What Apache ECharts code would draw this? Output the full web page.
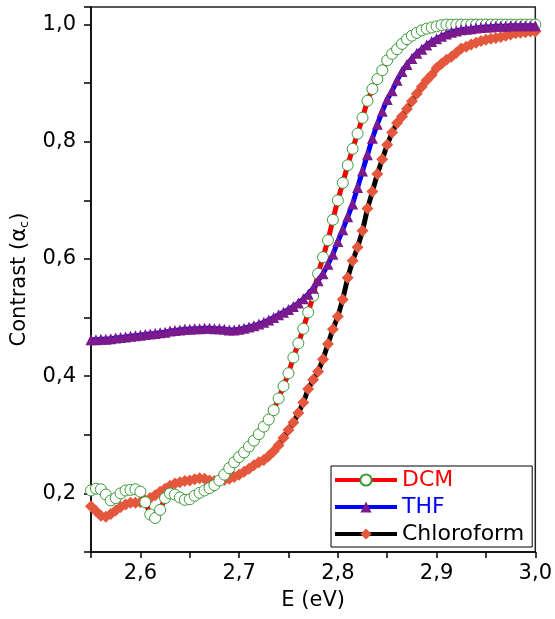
<!DOCTYPE html>
<html>
<head>
<meta charset="utf-8">
<script src="https://cdn.jsdelivr.net/npm/echarts@6/dist/echarts.min.js"></script>
<style>
html,body{margin:0;padding:0;background:#fff;}
#chart{width:555px;height:619px;}
</style>
</head>
<body>
<div id="chart"></div>
<script>
// Photon energy (eV)
const energy = [
2.550,2.555,2.560,2.565,2.570,2.575,2.580,2.585,2.590,2.595,
2.600,2.605,2.610,2.615,2.620,2.625,2.630,2.635,2.640,2.645,
2.650,2.655,2.660,2.665,2.670,2.675,2.680,2.685,2.690,2.695,
2.700,2.705,2.710,2.715,2.720,2.725,2.730,2.735,2.740,2.745,
2.750,2.755,2.760,2.765,2.770,2.775,2.780,2.785,2.790,2.795,
2.800,2.805,2.810,2.815,2.820,2.825,2.830,2.835,2.840,2.845,
2.850,2.855,2.860,2.865,2.870,2.875,2.880,2.885,2.890,2.895,
2.900,2.905,2.910,2.915,2.920,2.925,2.930,2.935,2.940,2.945,
2.950,2.955,2.960,2.965,2.970,2.975,2.980,2.985,2.990,2.995,
3.000];

const dcm = [
0.205,0.208,0.207,0.198,0.188,0.192,0.200,0.205,0.206,0.207,
0.203,0.185,0.164,0.158,0.172,0.192,0.200,0.198,0.193,0.189,
0.190,0.196,0.201,0.205,0.209,0.214,0.222,0.232,0.243,0.253,
0.262,0.270,0.280,0.290,0.301,0.314,0.326,0.342,0.362,0.383,
0.405,0.432,0.456,0.481,0.509,0.537,0.575,0.603,0.632,0.667,
0.700,0.730,0.760,0.788,0.814,0.841,0.870,0.890,0.907,0.922,
0.939,0.950,0.958,0.967,0.975,0.981,0.986,0.990,0.993,0.995,
0.997,0.999,1.000,1.000,1.000,1.000,1.000,1.000,1.000,1.000,
1.000,1.000,1.000,1.000,1.000,1.000,1.000,1.000,1.000,1.000,
1.000];

const thf = [
0.462,0.462,0.463,0.463,0.464,0.465,0.466,0.467,0.468,0.469,
0.470,0.471,0.472,0.473,0.474,0.475,0.477,0.478,0.479,0.480,
0.480,0.481,0.481,0.482,0.482,0.481,0.481,0.480,0.479,0.479,
0.480,0.482,0.484,0.486,0.489,0.492,0.496,0.500,0.505,0.509,
0.514,0.519,0.525,0.532,0.540,0.550,0.563,0.575,0.591,0.608,
0.630,0.650,0.672,0.694,0.722,0.750,0.778,0.806,0.830,0.852,
0.872,0.887,0.905,0.920,0.932,0.942,0.951,0.958,0.965,0.971,
0.976,0.980,0.984,0.987,0.989,0.991,0.992,0.993,0.994,0.995,
0.996,0.996,0.997,0.997,0.997,0.998,0.998,0.998,0.998,0.998,
0.998];

const chloroform = [
0.178,0.170,0.162,0.160,0.165,0.171,0.177,0.181,0.184,0.184,
0.185,0.188,0.192,0.197,0.203,0.208,0.213,0.217,0.219,0.221,
0.222,0.224,0.226,0.225,0.222,0.221,0.222,0.223,0.225,0.228,
0.232,0.237,0.242,0.248,0.253,0.257,0.264,0.272,0.282,0.295,
0.308,0.321,0.337,0.355,0.378,0.394,0.408,0.429,0.455,0.480,
0.502,0.531,0.568,0.597,0.620,0.648,0.686,0.715,0.745,0.770,
0.795,0.816,0.832,0.843,0.856,0.869,0.882,0.894,0.905,0.914,
0.926,0.933,0.940,0.945,0.952,0.959,0.962,0.966,0.969,0.972,
0.974,0.976,0.977,0.979,0.981,0.983,0.985,0.986,0.987,0.988,
0.988];

const seriesNames = ['DCM', 'THF', 'Chloroform'];
const xTickLabels = ['2,6', '2,7', '2,8', '2,9', '3,0'];
const yTickLabels = ['0,2', '0,4', '0,6', '0,8', '1,0'];

function pairs(ys) { return energy.map((e, i) => [e, ys[i]]); }

const FONT = 'DejaVu Sans';
const chart = echarts.init(document.getElementById('chart'), null, {renderer: 'canvas'});

chart.setOption({
  animation: false,
  backgroundColor: '#ffffff',
  grid: {
    left: 91, right: 18, top: 7, bottom: 67,
    show: true, borderColor: '#222', borderWidth: 1.5, backgroundColor: 'transparent'
  },
  xAxis: {
    type: 'value', min: 2.55, max: 3.0, interval: 0.05,
    name: 'E (eV)', nameLocation: 'middle', nameGap: 38,
    nameTextStyle: {fontFamily: FONT, fontSize: 21, color: '#000'},
    axisLine: {show: true, onZero: false, lineStyle: {color: '#000', width: 1.5}},
    axisTick: {show: true, inside: false, length: 6, lineStyle: {color: '#000', width: 1.5}},
    splitLine: {show: false},
    axisLabel: {
      margin: 11, color: '#000', fontFamily: FONT, fontSize: 21,
      showMinLabel: true, showMaxLabel: true,
      formatter: function (v) {
        const k = Math.round(v * 100);
        if (k % 10 !== 0) return '';
        const idx = Math.round((v - 2.6) * 10);
        return xTickLabels[idx] !== undefined ? xTickLabels[idx] : '';
      }
    }
  },
  yAxis: {
    type: 'value', min: 0.1, max: 1.03, interval: 0.1,
    name: 'Contrast ({a|α}{s|c})', nameLocation: 'middle', nameGap: 60, nameRotate: 90,
    nameTextStyle: {
      fontFamily: FONT, fontSize: 21, color: '#000',
      rich: {
        a: {fontFamily: FONT, fontSize: 21, color: '#000'},
        s: {fontFamily: FONT, fontSize: 13, color: '#000', verticalAlign: 'bottom', padding: [10, 0, 0, 0]}
      }
    },
    axisLine: {show: true, onZero: false, lineStyle: {color: '#000', width: 1.5}},
    axisTick: {show: true, inside: false, length: 7, lineStyle: {color: '#000', width: 1.5}},
    splitLine: {show: false},
    axisLabel: {
      margin: 15, color: '#000', fontFamily: FONT, fontSize: 21,
      formatter: function (v) {
        const k = Math.round(v * 10);
        if (Math.abs(v * 10 - k) > 1e-6) return '';
        if (k % 2 !== 0) return '';
        const idx = k / 2 - 1;
        return yTickLabels[idx] !== undefined ? yTickLabels[idx] : '';
      }
    }
  },
  legend: {
    orient: 'vertical', left: 331, top: 466,
    backgroundColor: '#fff', borderColor: '#000', borderWidth: 1,
    padding: [3, 8, 2, 2],
    itemWidth: 62, itemHeight: 14, itemGap: 5,
    lineStyle: {width: 4},
    textStyle: {fontFamily: FONT, fontSize: 22, padding: [0, 0, 0, 0]},
    data: [
      {name: 'DCM', textStyle: {color: '#ff0000'}},
      {name: 'THF', textStyle: {color: '#0000ff'}},
      {name: 'Chloroform', textStyle: {color: '#000000'}}
    ]
  },
  series: [
    {
      name: 'Chloroform', type: 'line', data: pairs(chloroform),
      symbol: 'diamond', symbolSize: 12, showSymbol: true,
      lineStyle: {color: '#000000', width: 5},
      itemStyle: {color: '#e4573d', borderWidth: 0},
      z: 2
    },
    {
      name: 'DCM', type: 'line', data: pairs(dcm),
      symbol: 'circle', symbolSize: 11, showSymbol: true,
      lineStyle: {color: '#ff0000', width: 5},
      itemStyle: {color: '#ffffff', borderColor: '#3a9a3a', borderWidth: 1},
      z: 3
    },
    {
      name: 'THF', type: 'line', data: pairs(thf),
      symbol: 'triangle', symbolSize: 11, showSymbol: true,
      lineStyle: {color: '#0000ff', width: 5},
      itemStyle: {color: '#7a1a8c', borderWidth: 0},
      z: 4
    }
  ]
});
</script>
</body>
</html>
